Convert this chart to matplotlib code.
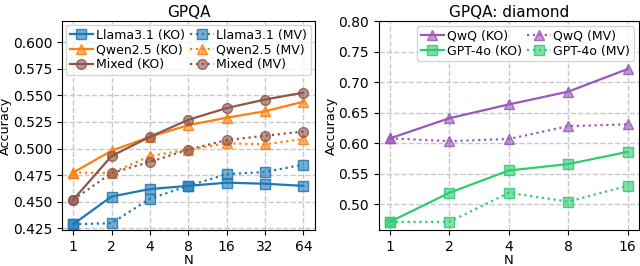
import matplotlib.pyplot as plt

n_left = ['1', '2', '4', '8', '16', '32', '64']
llama_ko = [0.429, 0.455, 0.462, 0.465, 0.468, 0.467, 0.465]
llama_mv = [0.429, 0.430, 0.453, 0.465, 0.476, 0.478, 0.485]
qwen_ko = [0.4775, 0.498, 0.511, 0.522, 0.529, 0.535, 0.544]
qwen_mv = [0.4775, 0.477, 0.493, 0.499, 0.505, 0.504, 0.509]
mixed_ko = [0.452, 0.493, 0.511, 0.527, 0.538, 0.546, 0.5525]
mixed_mv = [0.452, 0.477, 0.4875, 0.499, 0.508, 0.512, 0.516]

n_right = ['1', '2', '4', '8', '16']
qwq_ko = [0.608, 0.641, 0.6635, 0.6845, 0.7215]
qwq_mv = [0.608, 0.6035, 0.607, 0.628, 0.631]
gpt_ko = [0.4715, 0.519, 0.5555, 0.566, 0.586]
gpt_mv = [0.4715, 0.4715, 0.519, 0.5045, 0.5305]

plt.rcParams['font.size'] = 9.5
plt.rcParams['xtick.labelsize'] = 10
plt.rcParams['ytick.labelsize'] = 10

fig = plt.figure(figsize=(6.4, 2.66), dpi=100)
ax0 = fig.add_axes([0.097, 0.135, 0.395, 0.786])
ax1 = fig.add_axes([0.592, 0.135, 0.406, 0.786])


def draw(ax, x, y, color, marker, ls, label):
    ax.plot(x, y, color=color, marker=marker, linestyle=ls, linewidth=1.6,
            markersize=7, markeredgewidth=1.0,
            markerfacecolor=(color, 0.6), markeredgecolor=(color, 0.85),
            label=label)


def style(ax, title):
    ax.set_title(title, fontsize=11, pad=3)
    ax.set_xlabel('N', labelpad=0)
    ax.set_ylabel('Accuracy', labelpad=0.5, fontsize=9.2)
    ax.grid(True, linestyle='--', color='#c8c8c8', linewidth=1)
    # KO entries in the first column, MV entries in the second
    h, l = ax.get_legend_handles_labels()
    order = list(range(0, len(h), 2)) + list(range(1, len(h), 2))
    return [h[i] for i in order], [l[i] for i in order]


x0 = list(range(len(n_left)))
draw(ax0, x0, llama_ko, '#1f77b4', 's', '-', 'Llama3.1 (KO)')
draw(ax0, x0, llama_mv, '#1f77b4', 's', ':', 'Llama3.1 (MV)')
draw(ax0, x0, qwen_ko, '#ff7f0e', '^', '-', 'Qwen2.5 (KO)')
draw(ax0, x0, qwen_mv, '#ff7f0e', '^', ':', 'Qwen2.5 (MV)')
draw(ax0, x0, mixed_ko, '#8c564b', 'o', '-', 'Mixed (KO)')
draw(ax0, x0, mixed_mv, '#8c564b', 'o', ':', 'Mixed (MV)')
ax0.set_xticks(x0)
ax0.set_xticklabels(n_left)
ax0.set_xlim(-0.29, 6.3)
ax0.set_ylim(0.4235, 0.6197)
ax0.set_yticks([0.425, 0.45, 0.475, 0.5, 0.525, 0.55, 0.575, 0.6])
h, l = style(ax0, 'GPQA')
ax0.legend(h, l, loc='upper left', ncol=2, fontsize=9, columnspacing=0.4,
           handletextpad=0.2, handlelength=1.9, borderpad=0.3,
           labelspacing=0.15, borderaxespad=0.3)

x1 = list(range(len(n_right)))
draw(ax1, x1, qwq_ko, '#9b59b6', '^', '-', 'QwQ (KO)')
draw(ax1, x1, qwq_mv, '#9b59b6', '^', ':', 'QwQ (MV)')
draw(ax1, x1, gpt_ko, '#2ecc71', 's', '-', 'GPT-4o (KO)')
draw(ax1, x1, gpt_mv, '#2ecc71', 's', ':', 'GPT-4o (MV)')
ax1.set_xticks(x1)
ax1.set_xticklabels(n_right)
ax1.set_xlim(-0.185, 4.185)
ax1.set_ylim(0.458, 0.80)
ax1.set_yticks([0.5, 0.55, 0.6, 0.65, 0.7, 0.75, 0.8])
h, l = style(ax1, 'GPQA: diamond')
ax1.legend(h, l, loc='upper right', ncol=2, fontsize=9, columnspacing=0.4,
           handletextpad=0.2, handlelength=1.9, borderpad=0.3,
           labelspacing=0.15, borderaxespad=0.4)

fig.savefig('out.png', dpi=100)
